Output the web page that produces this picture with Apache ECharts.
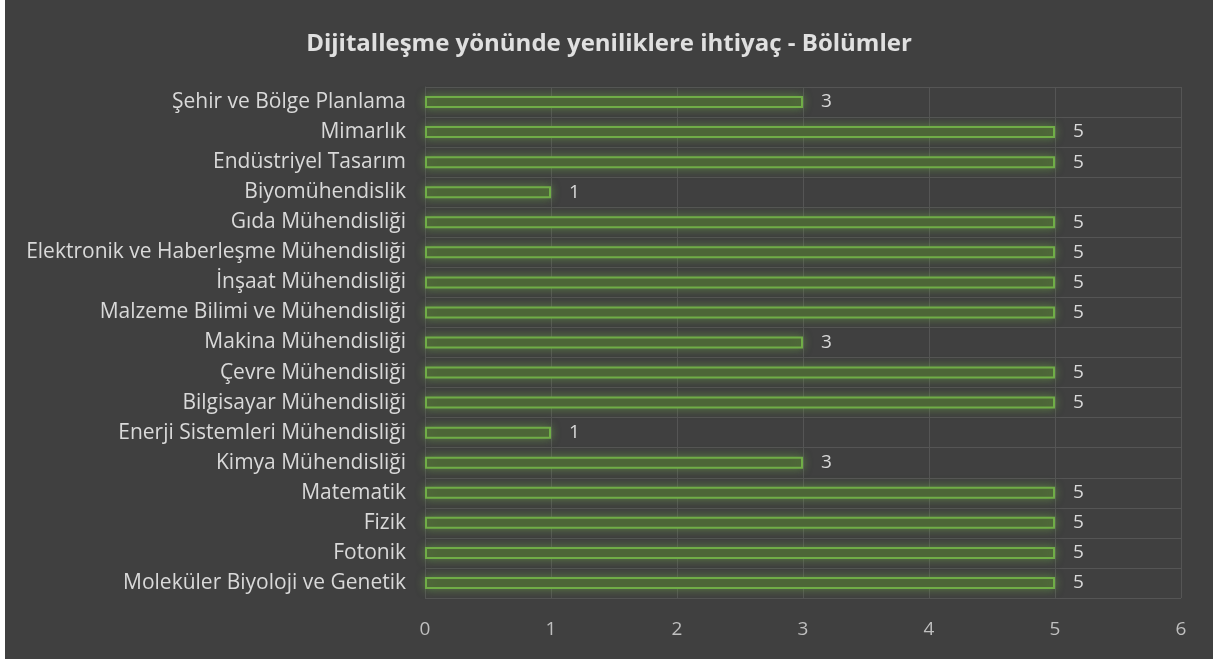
<!DOCTYPE html>
<html>
<head>
<meta charset="utf-8">
<script src="https://cdn.jsdelivr.net/npm/echarts@6/dist/echarts.min.js"></script>
<style>
  html, body { margin: 0; padding: 0; background: #ffffff; }
  #main { position: absolute; left: 5px; top: 0; width: 1208px; height: 659px; background: #404040; }
</style>
</head>
<body>
<div id="main"></div>
<script>
// kategoriler (yukarıdan aşağıya)
var bolumler = [
  'Şehir ve Bölge Planlama',
  'Mimarlık',
  'Endüstriyel Tasarım',
  'Biyomühendislik',
  'Gıda Mühendisliği',
  'Elektronik ve Haberleşme Mühendisliği',
  'İnşaat Mühendisliği',
  'Malzeme Bilimi ve Mühendisliği',
  'Makina Mühendisliği',
  'Çevre Mühendisliği',
  'Bilgisayar Mühendisliği',
  'Enerji Sistemleri Mühendisliği',
  'Kimya Mühendisliği',
  'Matematik',
  'Fizik',
  'Fotonik',
  'Moleküler Biyoloji ve Genetik'
]
var ihtiyac = [3, 5, 5, 1, 5, 5, 5, 5, 3, 5, 5, 1, 3, 5, 5, 5, 5]

var myChart = echarts.init(document.getElementById('main'))

var font = '"Open Sans", sans-serif'

var option = {
  backgroundColor: '#404040',
  title: {
    text: 'Dijitalleşme yönünde yeniliklere ihtiyaç - Bölümler',
    left: 'center',
    top: 27,
    textStyle: { color: '#e0e0e0', fontSize: 24, fontWeight: 'bold', fontFamily: font }
  },
  grid: { left: 420, right: 32, top: 87, bottom: 61 },
  xAxis: {
    type: 'value',
    min: 0,
    max: 6,
    interval: 1,
    axisLine: { show: false },
    axisTick: { show: false },
    axisLabel: { color: '#bfbfbf', fontSize: 19, fontFamily: font, margin: 22 },
    splitLine: { lineStyle: { color: '#555555', width: 1 } }
  },
  yAxis: {
    type: 'category',
    data: bolumler,
    inverse: true,
    axisLine: { show: true, lineStyle: { color: '#555555' } },
    axisTick: { show: false },
    axisLabel: { color: '#d9d9d9', fontSize: 21, fontFamily: font, margin: 19 },
    splitLine: { show: true, lineStyle: { color: '#555555' } }
  },
  series: [
    {
      type: 'bar',
      data: ihtiyac,
      barWidth: 12,
      itemStyle: {
        color: '#4a5e37',
        borderColor: '#70ad47',
        borderWidth: 2,
        shadowBlur: 10,
        shadowColor: 'rgba(112,173,71,0.55)'
      },
      label: {
        show: true,
        position: 'right',
        distance: 18,
        color: '#d9d9d9',
        fontSize: 19,
        fontFamily: font
      }
    }
  ]
}

myChart.setOption(option)
</script>
</body>
</html>
